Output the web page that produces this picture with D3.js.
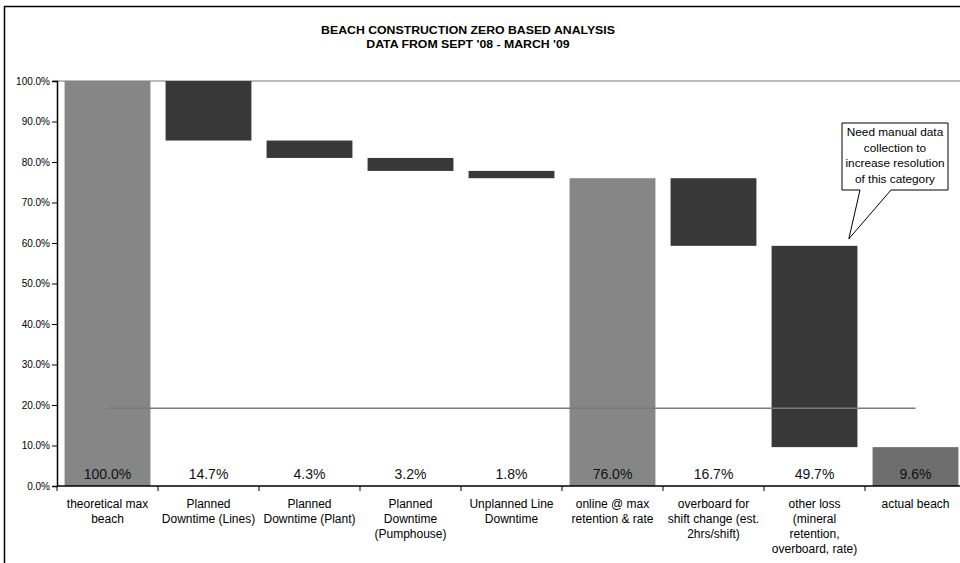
<!DOCTYPE html>
<html>
<head>
<meta charset="utf-8">
<script src="https://cdn.jsdelivr.net/npm/d3@7"></script>
<style>
  body { margin: 0; background: #fff; }
  svg { display: block; font-family: Arial, "Liberation Sans", sans-serif; }
</style>
</head>
<body>
<div class="chart"></div>
<script>
// waterfall data
var categories = [
  "theoretical max beach",
  "Planned Downtime (Lines)",
  "Planned Downtime (Plant)",
  "Planned Downtime (Pumphouse)",
  "Unplanned Line Downtime",
  "online @ max retention & rate",
  "overboard for shift change (est. 2hrs/shift)",
  "other loss (mineral retention, overboard, rate)",
  "actual beach"
];
var categoryLines = [
  ["theoretical max", "beach"],
  ["Planned", "Downtime (Lines)"],
  ["Planned", "Downtime (Plant)"],
  ["Planned", "Downtime", "(Pumphouse)"],
  ["Unplanned Line", "Downtime"],
  ["online @ max", "retention & rate"],
  ["overboard for", "shift change (est.", "2hrs/shift)"],
  ["other loss", "(mineral", "retention,", "overboard, rate)"],
  ["actual beach"]
];
var values = [100.0, 14.7, 4.3, 3.2, 1.8, 76.0, 16.7, 49.7, 9.6];
// "total" bars start at zero, "loss" bars hang from the running level
var kinds = ["total", "loss", "loss", "loss", "loss", "total", "loss", "loss", "end"];
var targetLevel = 19.2;
var yTicks = [0, 10, 20, 30, 40, 50, 60, 70, 80, 90, 100];
var titleLines = ["BEACH CONSTRUCTION ZERO BASED ANALYSIS", "DATA FROM SEPT '08 - MARCH '09"];
var noteLines = ["Need manual data", "collection to", "increase resolution", "of this category"];

var W = 960, H = 563;
var svg = d3.select(".chart").append("svg")
  .attr("width", W)
  .attr("height", H);

// outer frame of the chart object
svg.append("rect")
  .attr("x", 4.5).attr("y", 6.5)
  .attr("width", 1000).attr("height", 600)
  .attr("fill", "none")
  .attr("stroke", "#000")
  .attr("stroke-width", 1.5);

// title
svg.append("g").selectAll("text")
  .data(titleLines)
  .enter()
  .append("text")
  .attr("x", 468)
  .attr("y", function(d, i) { return 34 + i * 15; })
  .attr("text-anchor", "middle")
  .attr("font-size", 12.3)
  .attr("font-weight", "bold")
  .attr("transform", "scale(1,0.92)")
  .attr("transform-origin", "468 40")
  .text(function(d) { return d; });

var x = d3.scaleBand()
  .domain(categories)
  .range([57, 966])
  .paddingInner(0.15)
  .paddingOuter(0.075);

var y = d3.scaleLinear()
  .domain([0, 100])
  .range([486, 81]);

// build the floating segments
var level = 0;
var segs = values.map(function(v, i) {
  var lo, hi;
  if (kinds[i] === "loss") {
    hi = level; lo = level - v; level = lo;
  } else {
    lo = 0; hi = v; level = v;
  }
  return { cat: categories[i], lo: lo, hi: hi, v: v, kind: kinds[i] };
});

var fills = { total: "#868686", loss: "#383838", end: "#6e6e6e" };

// top border line of plot area at 100%
svg.append("line")
  .attr("x1", 53).attr("x2", W)
  .attr("y1", y(100)).attr("y2", y(100))
  .attr("stroke", "#a6a6a6")
  .attr("stroke-width", 1.5);

svg.append("g").selectAll("rect")
  .data(segs)
  .enter()
  .append("rect")
  .attr("x", function(d) { return x(d.cat); })
  .attr("y", function(d) { return y(d.hi); })
  .attr("width", x.bandwidth())
  .attr("height", function(d) { return y(d.lo) - y(d.hi); })
  .attr("fill", function(d) { return fills[d.kind]; });

// target level line, centre of first to centre of last category
svg.append("line")
  .attr("x1", x(categories[0]) + x.bandwidth() / 2)
  .attr("x2", x(categories[categories.length - 1]) + x.bandwidth() / 2)
  .attr("y1", y(targetLevel)).attr("y2", y(targetLevel))
  .attr("stroke", "#7a7a7a")
  .attr("stroke-width", 1.5);

// value labels along the bottom
svg.append("g").selectAll("text")
  .data(segs)
  .enter()
  .append("text")
  .attr("x", function(d) { return x(d.cat) + x.bandwidth() / 2; })
  .attr("y", y(0) - 7)
  .attr("text-anchor", "middle")
  .attr("font-size", 14)
  .attr("fill", "#111")
  .text(function(d) { return d.v.toFixed(1) + "%"; });

// y axis
var yAxis = svg.append("g")
  .attr("transform", "translate(57,0)")
  .call(d3.axisLeft(y)
    .tickValues(yTicks)
    .tickSize(5)
    .tickFormat(function(d) { return d.toFixed(1) + "%"; }));
yAxis.select(".domain").attr("stroke", "#000").attr("stroke-width", 1.5);
yAxis.selectAll(".tick line").attr("stroke", "#000");
yAxis.selectAll(".tick text")
  .attr("font-size", 10)
  .attr("font-family", "Arial, 'Liberation Sans', sans-serif")
  .attr("fill", "#000")
  .attr("x", -7);

// x axis line and tick marks between categories
var step = x.step();
var bounds = d3.range(categories.length + 1).map(function(i) {
  return x.range()[0] + i * step;
});
svg.append("line")
  .attr("x1", 57).attr("x2", W)
  .attr("y1", y(0)).attr("y2", y(0))
  .attr("stroke", "#000")
  .attr("stroke-width", 1.5);
svg.append("g").selectAll("line")
  .data(bounds)
  .enter()
  .append("line")
  .attr("x1", function(d) { return d; })
  .attr("x2", function(d) { return d; })
  .attr("y1", y(0))
  .attr("y2", y(0) + 5)
  .attr("stroke", "#000");

// category labels
var catG = svg.append("g").selectAll("text")
  .data(categoryLines)
  .enter()
  .append("text")
  .attr("text-anchor", "middle")
  .attr("font-size", 12)
  .attr("fill", "#000");
catG.selectAll("tspan")
  .data(function(d, i) { return d.map(function(s) { return { s: s, i: i }; }); })
  .enter()
  .append("tspan")
  .attr("x", function(d) { return x(categories[d.i]) + x.bandwidth() / 2; })
  .attr("y", function(d, j) { return 508 + j * 15; })
  .text(function(d) { return d.s; });

// callout on "other loss"
var tip = segs[7];
var tipX = x(tip.cat) + x.bandwidth() * 0.9;
var tipY = y(tip.hi) - 7;
var bx = 842, by = 123, bw = 106, bh = 67;
svg.append("path")
  .attr("d", "M" + bx + "," + by + "H" + (bx + bw) + "V" + (by + bh) +
    "H891L" + tipX + "," + tipY + "L860," + (by + bh) + "H" + bx + "Z")
  .attr("fill", "#fff")
  .attr("stroke", "#000")
  .attr("stroke-width", 1);
svg.append("g").selectAll("text")
  .data(noteLines)
  .enter()
  .append("text")
  .attr("x", bx + bw / 2)
  .attr("y", function(d, i) { return by + 13 + i * 15.5; })
  .attr("text-anchor", "middle")
  .attr("font-size", 11.8)
  .text(function(d) { return d; });
</script>
</body>
</html>
